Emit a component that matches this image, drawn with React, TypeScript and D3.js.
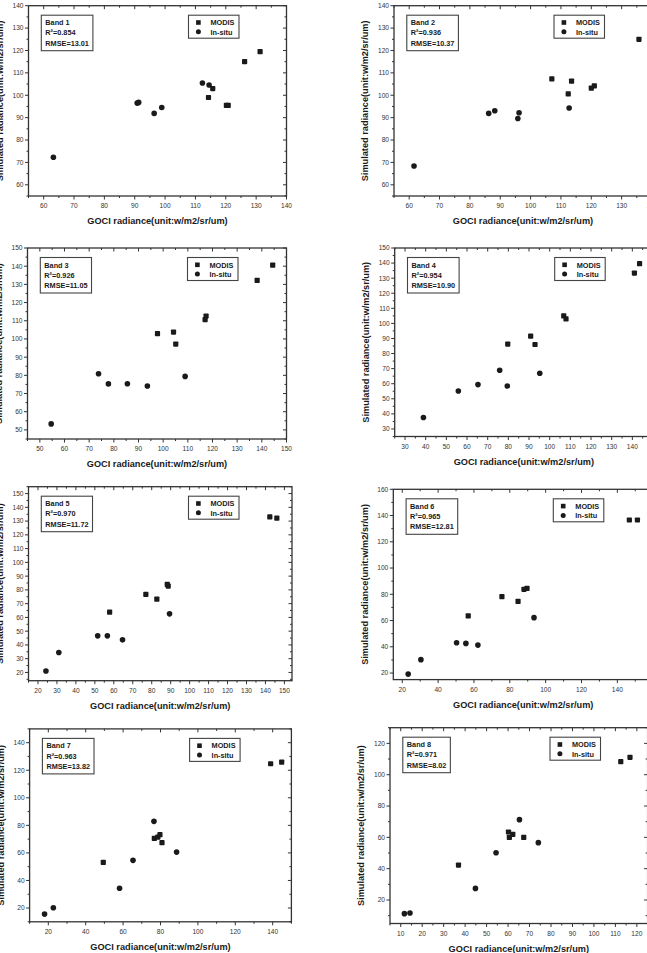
import { useEffect, useRef } from "react";
import * as d3 from "d3";

// [GOCI radiance, simulated radiance]
const band1Modis = [[114.3, 99], [115.7, 103], [120.2, 95.5], [120.8, 95.5], [126.2, 115], [131.3, 119.5]];
const band1Insitu = [[63.2, 72.3], [90.8, 96.5], [91.3, 96.8], [96.4, 91.9], [98.9, 94.5], [112.3, 105.5], [114.5, 104.6]];
const band2Modis = [[107, 107.3], [113.5, 106.3], [112.4, 100.6], [120, 103.2], [121, 104.2], [135.7, 125]];
const band2Insitu = [[61.6, 68.4], [86.2, 91.9], [88.2, 93.1], [95.8, 89.6], [96.2, 92.2], [112.7, 94.3]];
const band3Modis = [[97.7, 102.9], [104.2, 103.8], [105.1, 97.2], [117, 110.6], [117.4, 112.6], [138.1, 132.2], [144.4, 140.6]];
const band3Insitu = [[54.6, 53.3], [73.8, 80.9], [77.8, 75.3], [85.5, 75.4], [93.6, 74.1], [108.9, 79.4]];
const band4Modis = [[79.7, 86.3], [90.8, 91.5], [92.9, 86], [106.8, 105], [107.9, 103], [141, 133.4], [143.5, 139.6]];
const band4Insitu = [[38.9, 37.6], [55.8, 55.2], [65.3, 59.4], [75.8, 68.9], [79.5, 58.5], [95.2, 66.9]];
const band5Modis = [[57.8, 63.8], [76.9, 76.7], [82.7, 73.3], [88.2, 84], [88.7, 82.8], [142.3, 133.1], [146, 132.1]];
const band5Insitu = [[24.2, 21], [31, 34.5], [51.5, 46.6], [56.6, 46.6], [64.6, 43.7], [89.4, 62.6]];
const band6Modis = [[56.8, 63.5], [75.6, 78.2], [84.6, 74.6], [87.9, 83.8], [89.6, 84.5], [146.7, 136.6], [151.2, 136.6]];
const band6Insitu = [[23.3, 19.2], [30.4, 30.2], [50.3, 43.1], [55.5, 42.6], [62.2, 41.3], [93.5, 62.2]];
const band7Modis = [[49.4, 53.1], [76.7, 70.5], [78.6, 71.5], [79.7, 73.2], [80.8, 67.4], [138.9, 124.7], [144.8, 125.9]];
const band7Insitu = [[18, 15.6], [22.7, 20.2], [58.1, 34.3], [65.3, 54.6], [76.5, 82.9], [88.6, 60.6]];
const band8Modis = [[36.9, 42.3], [60.2, 63.4], [60.6, 60], [62.2, 61.9], [67.3, 60], [112.5, 108.3], [116.8, 111.1]];
const band8Insitu = [[11.7, 11.3], [14.3, 11.7], [44.8, 27.4], [54.4, 50.2], [65.3, 71.3], [74.1, 56.6]];

const bandNames = ["Band 1", "Band 2", "Band 3", "Band 4", "Band 5", "Band 6", "Band 7", "Band 8"];
const r2Values = ["0.854", "0.936", "0.926", "0.954", "0.970", "0.965", "0.963", "0.971"];
const rmseValues = ["13.01", "10.37", "11.05", "10.90", "11.72", "12.81", "13.82", "8.02"];
const modisSets = [band1Modis, band2Modis, band3Modis, band4Modis, band5Modis, band6Modis, band7Modis, band8Modis];
const insituSets = [band1Insitu, band2Insitu, band3Insitu, band4Insitu, band5Insitu, band6Insitu, band7Insitu, band8Insitu];

// axis ranges and labelled ticks [start, end, step]
const xDomains = [[55, 140], [55, 140], [45, 150], [25, 150], [15, 154], [15, 160], [10, 150], [5, 125]];
const yDomains = [[55, 140], [55, 140], [45, 150], [25, 150], [14, 155], [15, 160], [10, 150], [5, 130]];
const xTicks = [[60, 140, 10], [60, 140, 10], [50, 150, 10], [30, 150, 10], [20, 150, 10], [20, 160, 20], [20, 140, 20], [10, 120, 10]];
const yTicks = [[60, 140, 10], [60, 140, 10], [50, 150, 10], [30, 150, 10], [20, 150, 10], [20, 160, 20], [20, 140, 20], [20, 120, 20]];

const xTitle = "GOCI radiance(unit:w/m2/sr/um)";
const yTitle = "Simulated radiance(unit:w/m2/sr/um)";

// plot frame boxes in the 647x953 page
const frames = [
  { l: 28.5, r: 286.5, t: 5.7, b: 196 },
  { l: 394, r: 652, t: 5.7, b: 196 },
  { l: 27.5, r: 286.5, t: 248, b: 439 },
  { l: 394.7, r: 653, t: 248, b: 436.5 },
  { l: 28.5, r: 292, t: 486.7, b: 680.7 },
  { l: 393.3, r: 653.2, t: 489.3, b: 679.6 },
  { l: 29.6, r: 291.4, t: 728.9, b: 921.8 },
  { l: 390, r: 647.6, t: 727.7, b: 923.5 },
];

const FONT = "'Liberation Sans', Arial, sans-serif";
const INK = "#1a1a1a";

export default function App() {
  const ref = useRef<SVGSVGElement>(null);

  useEffect(() => {
    const svg = d3.select(ref.current);
    svg.selectAll("*").remove();

    svg.append("rect").attr("width", 647).attr("height", 953).attr("fill", "#fff");

    frames.forEach((f, i) => {
      const x = d3.scaleLinear().domain(xDomains[i]).range([f.l, f.r]);
      const y = d3.scaleLinear().domain(yDomains[i]).range([f.b, f.t]);
      const g = svg.append("g");

      const [xs, xe, xstep] = xTicks[i];
      const [ys, ye, ystep] = yTicks[i];
      const xMajor = d3.range(xs, xe + 0.001, xstep);
      const yMajor = d3.range(ys, ye + 0.001, ystep);
      const xMinor = d3.range(xs - xstep / 2, xe + xstep, xstep).filter((v) => v >= xDomains[i][0] && v <= xDomains[i][1]);
      const yMinor = d3.range(ys - ystep / 2, ye + ystep, ystep).filter((v) => v >= yDomains[i][0] && v <= yDomains[i][1]);

      const ticks = g.append("g").attr("stroke", "#333").attr("stroke-width", 1);
      // bottom & left out, top & right in
      xMajor.forEach((v) => {
        ticks.append("line").attr("x1", x(v)).attr("x2", x(v)).attr("y1", f.b).attr("y2", f.b + 3.5);
        ticks.append("line").attr("x1", x(v)).attr("x2", x(v)).attr("y1", f.t).attr("y2", f.t + 3.5);
      });
      xMinor.forEach((v) => {
        ticks.append("line").attr("x1", x(v)).attr("x2", x(v)).attr("y1", f.b).attr("y2", f.b + 2);
        ticks.append("line").attr("x1", x(v)).attr("x2", x(v)).attr("y1", f.t).attr("y2", f.t + 2);
      });
      yMajor.forEach((v) => {
        ticks.append("line").attr("y1", y(v)).attr("y2", y(v)).attr("x1", f.l).attr("x2", f.l - 3.5);
        ticks.append("line").attr("y1", y(v)).attr("y2", y(v)).attr("x1", f.r).attr("x2", f.r - 3.5);
      });
      yMinor.forEach((v) => {
        ticks.append("line").attr("y1", y(v)).attr("y2", y(v)).attr("x1", f.l).attr("x2", f.l - 2);
        ticks.append("line").attr("y1", y(v)).attr("y2", y(v)).attr("x1", f.r).attr("x2", f.r - 2);
      });

      g.append("rect")
        .attr("x", f.l)
        .attr("y", f.t)
        .attr("width", f.r - f.l)
        .attr("height", f.b - f.t)
        .attr("fill", "none")
        .attr("stroke", "#333")
        .attr("stroke-width", 1.3);

      const tl = g.append("g").attr("font-family", FONT).attr("font-size", 6.6).attr("fill", "#333");
      xMajor.forEach((v) => {
        tl.append("text").attr("x", x(v)).attr("y", f.b + 12).attr("text-anchor", "middle").text(v);
      });
      yMajor.forEach((v) => {
        tl.append("text").attr("x", f.l - 5).attr("y", y(v) + 2.4).attr("text-anchor", "end").text(v);
      });

      g.append("text")
        .attr("x", (f.l + f.r) / 2)
        .attr("y", f.b + 28)
        .attr("text-anchor", "middle")
        .attr("font-family", FONT)
        .attr("font-weight", "bold")
        .attr("font-size", 9.2)
        .attr("fill", INK)
        .text(xTitle);

      g.append("text")
        .attr("transform", `translate(${f.l - 29},${(f.t + f.b) / 2}) rotate(-90)`)
        .attr("dy", "0.35em")
        .attr("text-anchor", "middle")
        .attr("font-family", FONT)
        .attr("font-weight", "bold")
        .attr("font-size", 9.2)
        .attr("fill", INK)
        .text(yTitle);

      // points
      g.append("g")
        .selectAll("rect")
        .data(modisSets[i])
        .join("rect")
        .attr("x", (d) => x(d[0]) - 2.6)
        .attr("y", (d) => y(d[1]) - 2.6)
        .attr("width", 5.2)
        .attr("height", 5.2)
        .attr("rx", 0.8)
        .attr("fill", INK);
      g.append("g")
        .selectAll("circle")
        .data(insituSets[i])
        .join("circle")
        .attr("cx", (d) => x(d[0]))
        .attr("cy", (d) => y(d[1]))
        .attr("r", 2.8)
        .attr("fill", INK);

      // stats box
      const sb = g.append("g").attr("transform", `translate(${f.l + 12.8},${f.t + 9.5})`);
      const st = sb.append("g").attr("font-family", FONT).attr("font-weight", "bold").attr("font-size", 7.3).attr("fill", INK);
      const lines = [bandNames[i], `R²=${r2Values[i]}`, `RMSE=${rmseValues[i]}`];
      let maxW = 0;
      lines.forEach((s, k) => {
        const t = st.append("text").attr("x", 4).attr("y", 10 + k * 10.3).text(s);
        const w = (t.node() as SVGTextElement).getComputedTextLength();
        if (w > maxW) maxW = w;
      });
      sb.insert("rect", ":first-child")
        .attr("width", maxW + 8)
        .attr("height", 35.5)
        .attr("fill", "#fff")
        .attr("stroke", "#444")
        .attr("stroke-width", 1.1);

      // legend
      const lg = g.append("g").attr("transform", `translate(${f.l + 160},${f.t + 9.5})`);
      lg.append("rect")
        .attr("width", 50.5)
        .attr("height", 23)
        .attr("fill", "#fff")
        .attr("stroke", "#444")
        .attr("stroke-width", 1.1);
      lg.append("rect").attr("x", 7.6).attr("y", 5).attr("width", 4.6).attr("height", 4.6).attr("fill", INK);
      lg.append("circle").attr("cx", 9.9).attr("cy", 16.6).attr("r", 2.5).attr("fill", INK);
      const lt = lg.append("g").attr("font-family", FONT).attr("font-weight", "bold").attr("font-size", 7.3).attr("fill", INK);
      lt.append("text").attr("x", 22).attr("y", 10).text("MODIS");
      lt.append("text").attr("x", 22).attr("y", 19.5).text("In-situ");
    });
  }, []);

  return (
    <svg
      ref={ref}
      width={647}
      height={953}
      style={{ position: "absolute", left: 0, top: 0, display: "block" }}
    />
  );
}
